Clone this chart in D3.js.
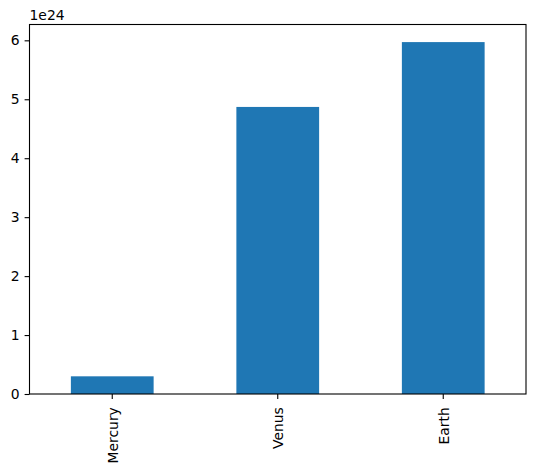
<!DOCTYPE html>
<html>
<head>
<meta charset="utf-8">
<script src="https://cdn.jsdelivr.net/npm/d3@7"></script>
<style>
  body { margin: 0; background: #fff; }
  text { font-family: "DejaVu Sans", sans-serif; }
</style>
</head>
<body>
<svg id="chart" width="534" height="470"></svg>
<script>
// planet masses in kg, shown on a 1e24 scale
var planets = ['Mercury', 'Venus', 'Earth'];
var masses = [0.30, 4.87, 5.97];
var yTicks = [0, 1, 2, 3, 4, 5, 6];

var margin = {left: 29.5, right: 8, top: 24.5, bottom: 76};
var width = 534, height = 470;

var svg = d3.select('#chart');

var x = d3.scaleBand()
  .domain(planets)
  .range([margin.left, width - margin.right])
  .paddingInner(0.5)
  .paddingOuter(0.25);

var y = d3.scaleLinear()
  .domain([0, d3.max(masses) * 1.05])
  .range([height - margin.bottom, margin.top]);

// bars
svg.append('g')
  .selectAll('rect')
  .data(masses)
  .enter().append('rect')
    .attr('x', function(d, i) { return x(planets[i]); })
    .attr('y', function(d) { return y(d); })
    .attr('width', x.bandwidth())
    .attr('height', function(d) { return y(0) - y(d); })
    .style('fill', '#1f77b4');

// y axis
var yAxis = svg.append('g')
  .attr('transform', 'translate(' + margin.left + ',0)')
  .call(d3.axisLeft(y).tickValues(yTicks).tickSize(4.9).tickPadding(4.9).tickFormat(d3.format('d')));
yAxis.select('.domain').remove();
yAxis.selectAll('text').style('font-size', '13.9px').attr('fill', '#000');
yAxis.selectAll('line').attr('stroke', '#000').attr('stroke-width', 1.1);

// x axis with rotated labels
var xAxis = svg.append('g')
  .attr('transform', 'translate(0,' + (height - margin.bottom) + ')')
  .call(d3.axisBottom(x).tickSize(4.9).tickSizeOuter(0));
xAxis.select('.domain').remove();
xAxis.selectAll('line').attr('stroke', '#000').attr('stroke-width', 1.1);
xAxis.selectAll('text')
  .style('font-size', '13.9px')
  .attr('fill', '#000')
  .attr('transform', 'rotate(-90)')
  .attr('x', -13.2)
  .attr('y', 0.5)
  .attr('dy', '0.35em')
  .style('text-anchor', 'end');

// frame
svg.append('rect')
  .attr('x', margin.left)
  .attr('y', margin.top)
  .attr('width', width - margin.right - margin.left)
  .attr('height', height - margin.bottom - margin.top)
  .style('fill', 'none')
  .style('stroke', '#000')
  .style('stroke-width', 1.1);

// offset label
svg.append('text')
  .attr('x', margin.left)
  .attr('y', margin.top - 5)
  .style('font-size', '13.9px')
  .text('1e24');
</script>
</body>
</html>
